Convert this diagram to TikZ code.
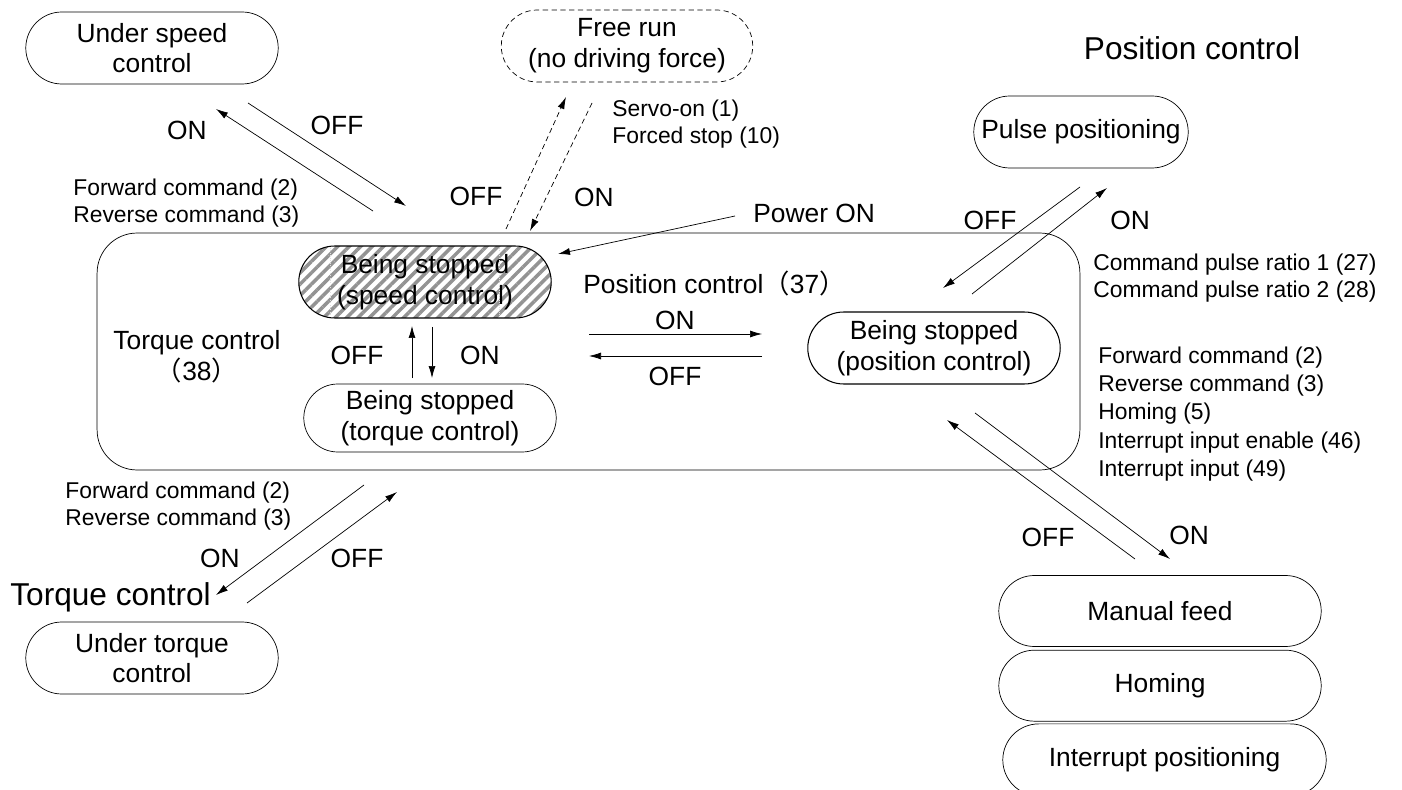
\documentclass[tikz,border=0pt]{standalone}
\usepackage{fontspec}
\setmainfont{Liberation Sans}
\newfontfamily\cjk{Noto Sans CJK SC}
\usetikzlibrary{arrows.meta,positioning,shapes.misc,patterns.meta}
\newcommand{\statefont}{\fontsize{15}{17.5}\selectfont}
\newcommand{\notefont}{\fontsize{13}{15.5}\selectfont}
\newcommand{\titlefont}{\fontsize{18}{20}\selectfont}

\begin{document}
\begin{tikzpicture}[x=0.02cm, y=-0.02cm,
    state/.style={rounded rectangle, draw, minimum width=5.12cm,
        minimum height=1.44cm, inner sep=1pt, align=center, font=\statefont},
    note/.style={align=left, anchor=west, inner sep=0pt, font=\notefont},
    lbl/.style={inner sep=0pt, font=\statefont},
    arrow/.style={-{Latex[length=2.4mm, width=1.4mm]}, thin}]
\useasboundingbox (0,0) rectangle (1402,790);
\clip (0,0) rectangle (1402,790);

% operating modes
\node[draw, rounded corners=0.8cm, minimum width=19.66cm,
    minimum height=4.74cm] (mode) at (588.5,351.5) {};
\node[state] (spd) at (152,48) {Under speed\\control};
\node[state, densely dashed, minimum width=5.1cm] (free) at (627,46) {Free run\\(no driving force)};
\node[state, minimum width=4.36cm] (pulse) at (1081,132) {Pulse positioning};
\node[state, semithick, pattern={Lines[angle=45, distance=4.6pt, line width=2pt]},
    pattern color=gray!85] (stopspd) at (425,282) {Being stopped\\(speed control)};
\draw[densely dotted, gray!25] (330,248) -- (330,316) (499,248) -- (499,316);
\node[state, minimum height=1.36cm] (stoptrq) at (430,418) {Being stopped\\(torque control)};
\node[state, semithick] (stoppos) at (934,348) {Being stopped\\(position control)};
\node[state, minimum width=6.52cm, minimum height=1.42cm] (manual) at (1160,611) {Manual feed};
\node[state, minimum width=6.52cm, minimum height=1.42cm, below=0.06cm of manual] (homing) {Homing};
\node[state, minimum width=6.54cm, minimum height=1.44cm, below=0.04cm of homing,
    xshift=0.09cm] (intpos) {Interrupt positioning};
\node[state] (trq) at (152,658) {Under torque\\control};

% titles and notes
\node[font=\titlefont, inner sep=0pt] (postitle) at (1192,48) {Position control};
\node[font=\titlefont, inner sep=0pt, anchor=west] (trqtitle) at (10,597) {Torque control};
\node[lbl, align=center] (trqsig) at (197,357) {Torque control\\{\cjk （}38{\cjk ）}};
\node[lbl, anchor=west] (possig) at (583,283) {Position control{\cjk （}37{\cjk ）}};
\node[note] (fwd1) at (73,203) {Forward command (2)\\Reverse command (3)};
\node[note] (servo) at (612,124) {Servo-on (1)\\Forced stop (10)};
\node[note] (pwr) at (753,213) {\statefont Power ON};
\node[note] (ratio) at (1093,278) {Command pulse ratio 1 (27)\\Command pulse ratio 2 (28)};
\node[note, font=\fontsize{13}{16}\selectfont] (posin) at (1098,414)
    {Forward command (2)\\Reverse command (3)\\Homing (5)\\Interrupt input enable (46)\\Interrupt input (49)};
\node[note] (fwd2) at (65,506) {Forward command (2)\\Reverse command (3)};

% arrow end points
\coordinate (s1) at (373,211);  \coordinate (s2) at (216,109);
\coordinate (s3) at (248,103);  \coordinate (s4) at (406,206);
\coordinate (f1) at (506,229);  \coordinate (f2) at (566,97);
\coordinate (f3) at (592,103);  \coordinate (f4) at (530,231);
\coordinate (p1) at (735,216);  \coordinate (p2) at (558,254);
\coordinate (t1) at (412,378);  \coordinate (t2) at (412,326);
\coordinate (t3) at (432,327);  \coordinate (t4) at (432,378);
\coordinate (h1) at (589,334);  \coordinate (h2) at (762,334);
\coordinate (h3) at (762,356);  \coordinate (h4) at (589,356);
\coordinate (u1) at (1080,187); \coordinate (u2) at (943,288);
\coordinate (u3) at (972,294);  \coordinate (u4) at (1107,188);
\coordinate (m1) at (1135,559); \coordinate (m2) at (947,420);
\coordinate (m3) at (975,413);  \coordinate (m4) at (1170,559);
\coordinate (q1) at (364,485);  \coordinate (q2) at (216,595);
\coordinate (q3) at (247,603);  \coordinate (q4) at (397,492);

\draw[arrow] (s1) -- (s2);
\draw[arrow] (s3) -- (s4);
\draw[arrow, densely dashed] (f1) -- (f2);
\draw[arrow, densely dashed] (f3) -- (f4);
\draw[arrow] (p1) -- (p2);
\draw[arrow] (t1) -- (t2);
\draw[arrow] (t3) -- (t4);
\draw[arrow] (h1) -- (h2);
\draw[arrow] (h3) -- (h4);
\draw[arrow] (u1) -- (u2);
\draw[arrow] (u3) -- (u4);
\draw[arrow] (m1) -- (m2);
\draw[arrow] (m3) -- (m4);
\draw[arrow] (q1) -- (q2);
\draw[arrow] (q3) -- (q4);

% ON / OFF labels
\node[lbl] (son)  at (187,130) {ON};
\node[lbl] (soff) at (337,125) {OFF};
\node[lbl] (foff) at (476,196) {OFF};
\node[lbl] (fon)  at (594,197) {ON};
\node[lbl] (toff) at (357,355) {OFF};
\node[lbl] (ton)  at (480,355) {ON};
\node[lbl] (hon)  at (675,320) {ON};
\node[lbl] (hoff) at (675,376) {OFF};
\node[lbl] (uoff) at (990,220) {OFF};
\node[lbl] (uon)  at (1130,220) {ON};
\node[lbl] (moff) at (1048,537) {OFF};
\node[lbl] (mon)  at (1189,535) {ON};
\node[lbl] (qon)  at (220,558) {ON};
\node[lbl] (qoff) at (357,558) {OFF};
\end{tikzpicture}
\end{document}
